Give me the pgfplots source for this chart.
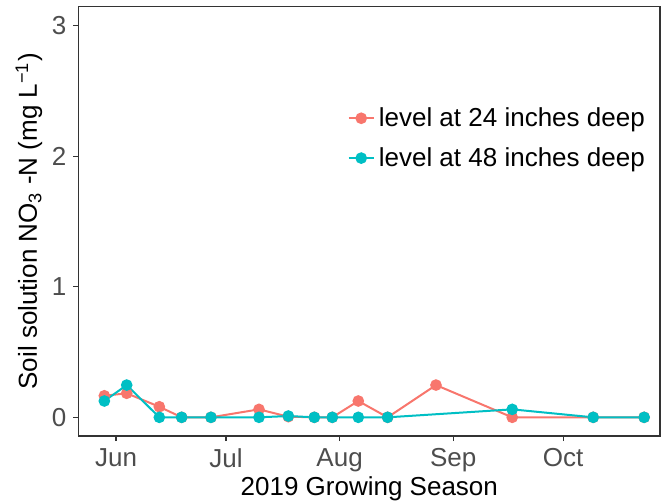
\documentclass[border=0pt]{standalone}
\usepackage{pgfplots}
\pgfplotsset{compat=1.18}
\usepackage{fontspec}
\setmainfont{Liberation Sans}
\definecolor{cred}{HTML}{F8766D}
\definecolor{cteal}{HTML}{00BFC4}
\definecolor{gtick}{HTML}{4D4D4D}
\definecolor{gaxis}{HTML}{333333}
\begin{document}
\begin{tikzpicture}[x=0.5pt,y=0.5pt]
\useasboundingbox (0,0) rectangle (665,503);
\begin{axis}[
  at={(78.7pt*0.5,67pt*0.5)}, anchor=south west,
  scale only axis, width=290.6pt, height=214.6pt,
  xmin=141.8, xmax=300.4, ymin=-0.143, ymax=3.144,
  xtick={152,182,213,244,274}, xticklabels={Jun,Jul,Aug,Sep,Oct},
  ytick={0,1,2,3},
  axis line style={gaxis, line width=0.6pt},
  tick style={gaxis, line width=0.6pt},
  tick align=outside, tick pos=left,
  major tick length=2.6pt,
  ticklabel style={text=gtick, font=\fontsize{13}{15}\selectfont},
  xticklabel style={yshift=0pt},
  /pgf/number format/assume math mode=true,
  xlabel={2019 Growing Season},
  ylabel={Soil solution NO\textsubscript{3} -N (mg L\textsuperscript{−1})},
  label style={font=\fontsize{13}{15}\selectfont},
  xlabel style={yshift=4.5pt},
  ylabel style={yshift=-2pt},
  legend style={draw=none, fill=none, at={(0.462,0.776)}, anchor=north west,
    font=\fontsize{13}{15}\selectfont, row sep=5pt, inner sep=0pt,
    legend cell align=left},
  legend image code/.code={\draw[mark repeat=2,mark phase=2,#1] plot coordinates {(0pt,0pt)(6.3pt,0pt)(12.6pt,0pt)};},
]
\addplot[cred, line width=1pt, mark=*, mark size=2.4pt, mark options={solid}] coordinates {
(148.8,0.165) (154.9,0.184) (163.8,0.081) (169.9,0) (177.9,0) (191,0.061) (199,0.005) (206.1,0) (211,0) (218.1,0.125) (226.1,0) (239.3,0.247) (260.1,0) (282.2,0) (296.1,0)};
\addlegendentry{level at 24 inches deep}
\addplot[cteal, line width=1pt, mark=*, mark size=2.4pt, mark options={solid}] coordinates {
(148.8,0.125) (154.9,0.247) (163.8,0) (169.9,0) (177.9,0) (191,0) (199,0.01) (206.1,0) (211,0) (218.1,0) (226.1,0) (260.1,0.061) (282.2,0) (296.1,0)};
\addlegendentry{level at 48 inches deep}
\end{axis}
\end{tikzpicture}
\end{document}
